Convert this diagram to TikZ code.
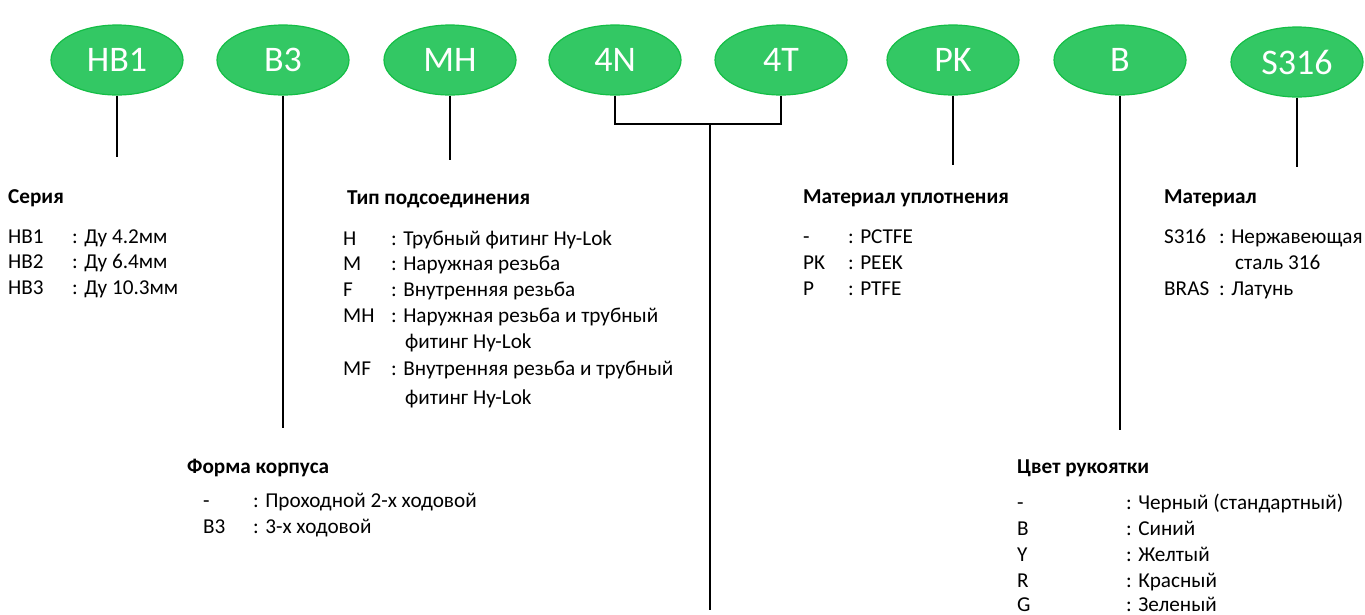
\documentclass[tikz,border=0pt]{standalone}
\usepackage{fontspec}
\setmainfont{Carlito}
\usetikzlibrary{shapes.geometric}
\definecolor{ovalfill}{RGB}{51,200,100}
\definecolor{ovaldraw}{RGB}{20,190,70}
\tikzset{
 oval/.style={ellipse, fill=ovalfill, draw=ovaldraw, line width=1.2pt, minimum width=132pt, minimum height=70pt, inner sep=0pt, text=white, font=\fontsize{36}{36}\selectfont},
 conn/.style={line width=1.9pt, black},
 txt/.style={anchor=base west, inner sep=0pt, font=\fontsize{21.2}{24}\selectfont},
 head/.style={anchor=base west, inner sep=0pt, font=\fontsize{21.2}{24}\selectfont\bfseries},
}
\begin{document}
\begin{tikzpicture}[x=1pt,y=-1pt]
\useasboundingbox (0,0) rectangle (1365,614);
% ovals
\node[oval] (o1) at (117,60) {HB1};
\node[oval] (o2) at (283,60) {B3};
\node[oval] (o3) at (450,60) {MH};
\node[oval] (o4) at (615,60) {4N};
\node[oval] (o5) at (781,60) {4T};
\node[oval] (o6) at (953,60) {PK};
\node[oval] (o7) at (1120,60) {B};
\node[oval] (o8) at (1297,62) {S316};
% connector ends
\coordinate (e1) at (115,157);
\coordinate (e2) at (283,428);
\coordinate (e3) at (450,160);
\coordinate (j) at (710,124);
\coordinate (e45) at (710,610);
\coordinate (e6) at (953,165);
\coordinate (e7) at (1120,430);
\coordinate (e8) at (1296,167);
\draw[conn] (o1.south) -- (o1.south |- e1);
\draw[conn] (o2.south) -- (o2.south |- e2);
\draw[conn] (o3.south) -- (o3.south |- e3);
\draw[conn] (o4.south) -- (o4.south |- j) -- (o5.south |- j) -- (o5.south);
\draw[conn] (j) -- (e45);
\draw[conn] (o6.south) -- (o6.south |- e6);
\draw[conn] (o7.south) -- (o7.south |- e7);
\draw[conn] (o8.south) -- (o8.south |- e8);
% Серия
\node[head] (h1) at (8,203) {Серия};
\node[txt] (a1) at (8,243) {HB1};  \node[txt] (b1) at (72,243) {: Ду 4.2мм};
\node[txt] (a2) at (8,268) {HB2};  \node[txt] (b2) at (72,268) {: Ду 6.4мм};
\node[txt] (a3) at (8,294) {HB3};  \node[txt] (b3) at (72,294) {: Ду 10.3мм};
% Тип подсоединения
\node[head] (h3) at (347,204) {Тип подсоединения};
\node[txt] (c1) at (343,245) {H};  \node[txt] (d1) at (391,245) {: Трубный фитинг Hy-Lok};
\node[txt] (c2) at (343,270) {M};  \node[txt] (d2) at (391,270) {: Наружная резьба};
\node[txt] (c3) at (343,296) {F};  \node[txt] (d3) at (391,296) {: Внутренняя резьба};
\node[txt] (c4) at (343,322) {MH}; \node[txt] (d4) at (391,322) {: Наружная резьба и трубный};
\node[txt] (d4b) at (405,348) {фитинг Hy-Lok};
\node[txt] (c5) at (343,375) {MF}; \node[txt] (d5) at (391,375) {: Внутренняя резьба и трубный};
\node[txt] (d5b) at (405,404) {фитинг Hy-Lok};
% Форма корпуса
\node[head] (h2) at (187,473) {Форма корпуса};
\node[txt] (f1) at (203,507) {-};  \node[txt] (g1) at (253,507) {: Проходной 2-х ходовой};
\node[txt] (f2) at (203,533) {B3}; \node[txt] (g2) at (253,533) {: 3-х ходовой};
% Материал уплотнения
\node[head] (h6) at (803,203) {Материал уплотнения};
\node[txt] (k1) at (803,243) {-};  \node[txt] (l1) at (848,243) {: PCTFE};
\node[txt] (k2) at (803,269) {PK}; \node[txt] (l2) at (848,269) {: PEEK};
\node[txt] (k3) at (803,295) {P};  \node[txt] (l3) at (848,295) {: PTFE};
% Материал
\node[head] (h8) at (1164,203) {Материал};
\node[txt] (m1) at (1164,243) {S316}; \node[txt] (n1) at (1219,243) {: Нержавеющая};
\node[txt] (n1b) at (1235,269) {сталь 316};
\node[txt] (m2) at (1164,295) {BRAS}; \node[txt] (n2) at (1219,295) {: Латунь};
% Цвет рукоятки
\node[head] (h7) at (1017,473) {Цвет рукоятки};
\node[txt] (p1) at (1017,509) {-}; \node[txt] (q1) at (1126,509) {: Черный (стандартный)};
\node[txt] (p2) at (1017,535) {B}; \node[txt] (q2) at (1126,535) {: Синий};
\node[txt] (p3) at (1017,561) {Y}; \node[txt] (q3) at (1126,561) {: Желтый};
\node[txt] (p4) at (1017,587) {R}; \node[txt] (q4) at (1126,587) {: Красный};
\node[txt] (p5) at (1017,611) {G}; \node[txt] (q5) at (1126,611) {: Зеленый};
\end{tikzpicture}
\end{document}
